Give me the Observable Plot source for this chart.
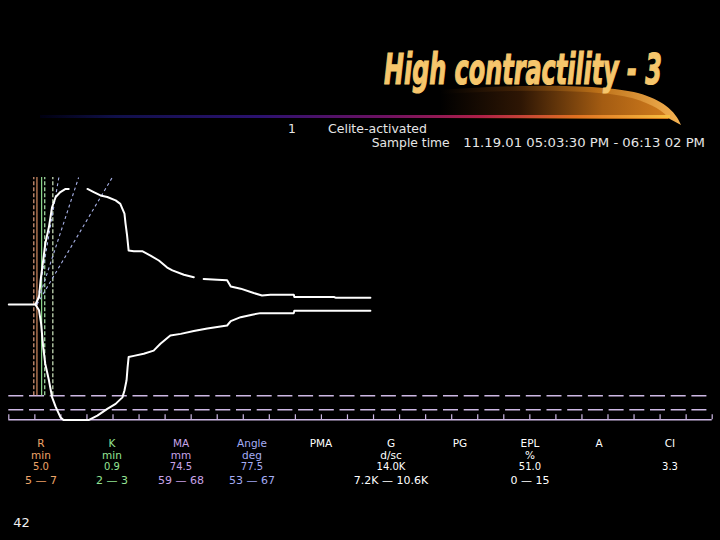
<!DOCTYPE html>
<html>
<head>
<meta charset="utf-8">
<script src="https://cdn.jsdelivr.net/npm/d3@7"></script>
<script src="https://cdn.jsdelivr.net/npm/@observablehq/plot@0.6"></script>
<style>
html,body{margin:0;padding:0;background:#000;}
#page{position:relative;width:720px;height:540px;overflow:hidden;background:#000;}
#deco,#chart,#txt{position:absolute;left:0;top:0;}
#chart svg{display:block;}
text{font-family:"DejaVu Sans","Verdana",sans-serif;}
</style>
</head>
<body>
<div id="page">
<svg id="deco" width="720" height="540">
  <defs>
    <linearGradient id="barGrad" gradientUnits="userSpaceOnUse" x1="40" y1="0" x2="670" y2="0">
      <stop offset="0" stop-color="#000010"/>
      <stop offset="0.12" stop-color="#10104a"/>
      <stop offset="0.35" stop-color="#2c1270"/>
      <stop offset="0.55" stop-color="#701262"/>
      <stop offset="0.70" stop-color="#b02048"/>
      <stop offset="0.85" stop-color="#e07020"/>
      <stop offset="1" stop-color="#f8c040"/>
    </linearGradient>
    <linearGradient id="swOuter" gradientUnits="userSpaceOnUse" x1="440" y1="0" x2="682" y2="0">
      <stop offset="0" stop-color="#000000"/>
      <stop offset="0.3" stop-color="#3e2006"/>
      <stop offset="0.65" stop-color="#bc7018"/>
      <stop offset="1" stop-color="#f6b454"/>
    </linearGradient>
    <linearGradient id="swInner" gradientUnits="userSpaceOnUse" x1="440" y1="0" x2="672" y2="0">
      <stop offset="0" stop-color="#000000"/>
      <stop offset="0.35" stop-color="#2e1604"/>
      <stop offset="0.7" stop-color="#a45c12"/>
      <stop offset="1" stop-color="#d47e1e"/>
    </linearGradient>
  </defs>
  <path d="M440 117 L440 90 C520 84 600 84 638 93 C662 100 675 110 681 125 L668 118 Z" fill="url(#swOuter)"/>
  <path d="M440 117 L440 94 C520 89 598 89 632 98 C652 104 664 111 669 119 L440 119 Z" fill="url(#swInner)"/>
  <rect x="40" y="115" width="630" height="3" fill="url(#barGrad)"/>
  <text id="title" x="0" y="0"
        style="font-family:'Liberation Sans Narrow','DejaVu Sans Condensed','Liberation Sans',sans-serif;font-weight:bold;font-style:italic;font-size:42px;fill:#f6c66c;stroke:#f6c66c;stroke-width:1.2;paint-order:stroke;">High contractility - 3</text>
</svg>
<div id="chart"></div>
<svg id="txt" width="720" height="540"></svg>
</div>
<script>
// ---------- data ----------
// TEG trace: time (min) vs signed half-amplitude (mm); NaN = gap in the trace
const upperTrace = [
  [0,0],[5.1,0],[5.8,2.4],[6.1,7.8],[6.6,14.2],[7.0,19.6],[7.7,25.0],[8.3,31.4],[9.0,34.7],[9.9,36.3],[10.9,37.3],[11.5,37.3],
  [13.0,NaN],
  [15.1,37.3],[16.3,36.3],[17.6,35.2],[18.9,34.7],[20.5,33.6],[21.4,32.5],[22.2,29.3],[22.4,26.2],[22.7,22.3],[23.0,17.4],
  [24.0,17.2],[25.6,17.2],[27.2,15.8],[28.8,14.2],[30.4,11.9],[31.4,11.0],[33.6,9.6],[35.5,8.8],
  [36.4,NaN],
  [37.4,8.2],[40.0,8.0],[41.9,7.8],[42.6,5.8],[44.5,5.1],[47.0,3.7],[48.6,2.9],[50.2,3.1],[54.7,3.1],[54.8,2.4],
  [62.4,2.4],[62.7,2.2],[69.4,2.2]
];
const lowerTrace = [
  [5.1,0],[5.8,-1.9],[6.2,-6.2],[6.6,-13.8],[7.0,-19.2],[7.7,-24.5],[8.3,-29.9],[9.0,-33.1],[9.9,-36.4],[10.5,-37.3],
  [15.4,-37.3],[17.0,-35.9],[18.9,-33.7],[20.5,-32.1],[21.8,-30.0],[22.2,-27.8],[22.6,-24.5],[22.8,-20.3],[23.0,-17.0],
  [24.0,-16.6],[25.9,-15.9],[27.8,-14.9],[29.1,-12.7],[31.0,-10.0],[33.0,-9.5],[35.5,-8.6],[38.1,-7.8],[41.9,-6.8],
  [42.6,-5.4],[44.5,-4.1],[46.7,-3.3],[48.3,-2.8],[54.7,-2.8],[54.8,-2.0],[69.4,-2.0]
];
// Marker lines (min)
const markerTimes = [4.8, 5.4, 6.3, 6.9, 8.45];
// Angle tangent lines: origin time and end times at the top
const angleOrigin = 5.4;
const angleEnds = [9.6, 13.4, 19.85];
// MA normal range (mm) drawn as dashed limits
const maRange = [59, 68];
// Display limit (half amplitude, mm) and top of markers
const ampLimit = 37.25;
const markerTop = 41;
// Time axis ticks (min)
const timeTicks = [0,5,10,15,20,25,30,35,40,45,50,55,60,65,70,75,80,85,90,95,100,105,110,115,120,125,130,135];

// Parameter table
const paramNames  = ["R","K","MA","Angle","PMA","G","PG","EPL","A","CI"];
const paramUnits  = ["min","min","mm","deg","","d/sc","","%","",""];
const paramValues = ["5.0","0.9","74.5","77.5","","14.0K","","51.0","","3.3"];
const paramRanges = ["5 — 7","2 — 3","59 — 68","53 — 67","","7.2K — 10.6K","","0 — 15","",""];

// Header texts
const channelLabel = "1";
const activator = "Celite-activated";
const sampleLabel = "Sample time";
const sampleTime = "11.19.01 05:03:30 PM - 06:13 02 PM";
const pageNumber = "42";

// ---------- styles ----------
const markerStyles = [
  {stroke:"#e0a080", dash:"4,2"},
  {stroke:"#d88e62", dash:null},
  {stroke:"#8ed88e", dash:null},
  {stroke:"#b0ecb0", dash:"4,2"},
  {stroke:"#d4ecc4", dash:"4,2"}
];
const paramColors = ["#eea468","#94e494","#c8a4e8","#a4acf4","#ffffff","#ffffff","#ffffff","#ffffff","#ffffff","#ffffff"];
const lav = "#cdb8e4";

// ---------- title fit (scale horizontally to the reference width) ----------
const title = document.getElementById("title");
const natural = title.getComputedTextLength() || 400;
const sx = 278 / natural;
title.setAttribute("transform", `translate(384,84) scale(${sx},1)`);

const up = upperTrace.map(([t,h]) => ({t, h}));
const lo = lowerTrace.map(([t,h]) => ({t, h}));

const marks = [
  Plot.ruleY(maRange, {y: d => -d/2, stroke: lav, strokeWidth: 1.4, strokeDasharray: "15,5.7"}),
  Plot.ruleY([-ampLimit], {stroke: lav, strokeWidth: 1.6}),
  Plot.ruleX(timeTicks, {x: d => d, y1: -ampLimit, y2: -ampLimit + 1.6, stroke: lav, strokeWidth: 1.2}),
  ...markerTimes.map((m, i) => Plot.ruleX([m], {
    x: d => d, y1: -maRange[0]/2, y2: markerTop,
    stroke: markerStyles[i].stroke, strokeWidth: 1.2,
    strokeDasharray: markerStyles[i].dash || undefined
  })),
  Plot.link(angleEnds, {x1: () => angleOrigin, y1: () => 0, x2: d => d, y2: () => markerTop,
    stroke: "#a8b2e8", strokeWidth: 1.1, strokeDasharray: "3,3"}),
  Plot.line(up, {x: "t", y: "h", stroke: "#ffffff", strokeWidth: 2, curve: "linear"}),
  Plot.line(lo, {x: "t", y: "h", stroke: "#ffffff", strokeWidth: 2, curve: "linear"})
];

const chart = Plot.plot({
  width: 720,
  height: 540,
  marginLeft: 8.3,
  marginRight: 8.3,
  marginTop: 177,
  marginBottom: 120.7,
  x: {domain: [0, 135], axis: null},
  y: {domain: [-ampLimit, markerTop], axis: null},
  style: {background: "transparent", color: "#fff"},
  marks
});
document.getElementById("chart").appendChild(chart);

// ---------- texts ----------
const txt = d3.select("#txt");
const hdrFill = "#e6e6e6";
txt.append("text").attr("x", 288).attr("y", 133.3).attr("font-size", 12.3).attr("fill", hdrFill).text(channelLabel);
txt.append("text").attr("x", 328).attr("y", 133.3).attr("font-size", 12.3).attr("fill", hdrFill)
  .attr("textLength", 99).attr("lengthAdjust", "spacingAndGlyphs").text(activator);
txt.append("text").attr("x", 371.7).attr("y", 147.3).attr("font-size", 12.3).attr("fill", hdrFill)
  .attr("textLength", 78).attr("lengthAdjust", "spacingAndGlyphs").text(sampleLabel);
txt.append("text").attr("x", 463.3).attr("y", 147.3).attr("font-size", 12.3).attr("fill", hdrFill)
  .attr("textLength", 241.7).attr("lengthAdjust", "spacingAndGlyphs").text(sampleTime);

const colX = [41, 112, 181, 252, 321, 391, 460, 530, 599, 670];
const rows = [
  {vals: paramNames, y: 446.7, size: 10.5},
  {vals: paramUnits, y: 458.5, size: 10.5},
  {vals: paramValues, y: 469.5, size: 10},
  {vals: paramRanges, y: 484.3, size: 11}
];
rows.forEach(r => {
  r.vals.forEach((v, i) => {
    if (!v) return;
    txt.append("text").attr("x", colX[i]).attr("y", r.y).attr("text-anchor", "middle")
      .attr("font-size", r.size).attr("fill", paramColors[i]).text(v);
  });
});
txt.append("text").attr("x", 13.3).attr("y", 527).attr("font-size", 13).attr("fill", "#f0f0f0").text(pageNumber);
</script>
</body>
</html>
